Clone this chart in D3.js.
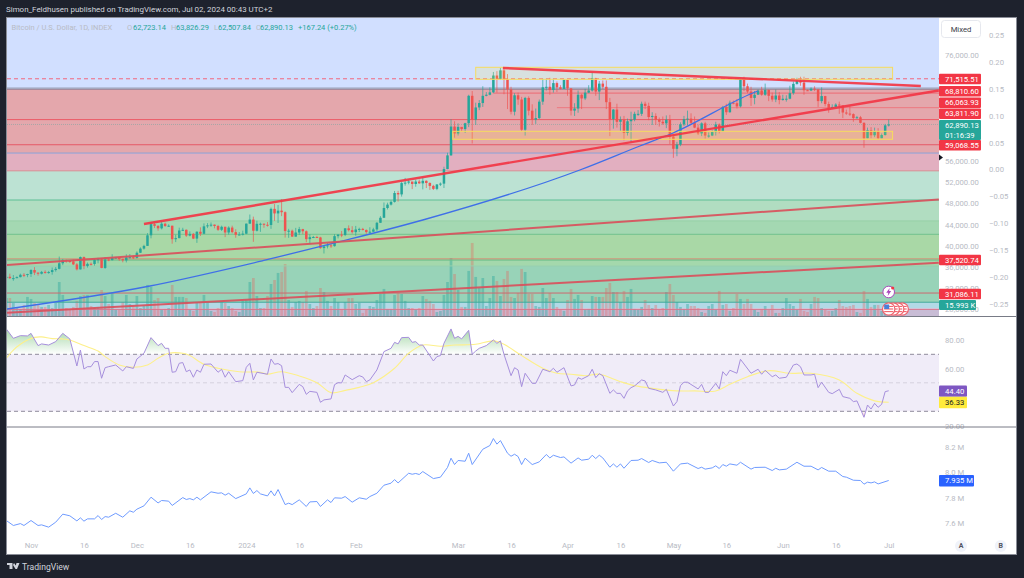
<!DOCTYPE html>
<html>
<head>
<meta charset="utf-8">
<script src="https://cdn.jsdelivr.net/npm/d3@7"></script>
<style>
  html, body { margin: 0; padding: 0; background: #1e222d; overflow: hidden; }
  svg { display: block; }
  text { font-family: Roboto, "Open Sans", sans-serif; }
  .tick line, .domain { display: none; }
</style>
</head>
<body>
<div id="root"></div>
<script>
// candle index 0 is Oct 25 2023, index 250 is Jul 1 2024
const opens = [
  33900,34150,33900,33900,34090,34530,34500,
  34670,35430,34940,34730,35080,35050,35050,35420,35650,36700,37300,37130,37060,36490,35550,37880,36170,36600,36570,37380,37470,35820,37420,37290,37720,37790,37480,37250,37820,37850,
  37720,38690,39470,39980,41980,44080,43770,43290,44170,43720,43790,41240,41450,42890,43020,41930,42240,41360,42650,42270,43670,43860,43990,43740,43020,43590,42510,43440,42580,42070,42140,
  42280,44180,44950,42840,44150,44160,43970,43930,46970,46110,46630,46340,42780,42850,41730,42510,43140,42740,41260,41620,41660,41580,39570,39890,40080,39930,41820,42120,42030,43300,42950,
  42580,43080,43190,42990,42580,42660,43090,44340,45290,47130,47770,48290,49960,49700,51830,51920,52130,51660,52120,51780,52260,51850,51300,50740,51570,51730,54480,57060,62500,
  61190,62440,62030,63130,68300,63800,66100,66940,68300,68500,68950,72130,71480,73100,71400,69500,65300,68400,67600,61900,67900,65500,63800,64100,67200,69900,70000,69400,70700,69900,69600,
  71300,69700,65500,65900,68500,67800,68900,69300,71600,69100,70600,70000,67100,63900,65700,63400,63800,61300,63500,63800,64900,64900,66800,66400,64300,64500,63800,63400,63100,63800,
  60600,58300,59100,62900,63900,64000,63200,62300,61200,63100,60800,60800,61450,62900,61600,66200,65200,67000,66900,66300,71400,70100,69100,67900,68500,69300,68500,69400,68300,67600,68350,
  67500,67750,67750,68800,70550,71100,70800,69350,69300,69650,69500,67300,68250,66750,66000,66200,66650,66500,65150,64950,64850,64100,64250,63200,60300,61800,60850,61650,60300,60900,
  62723.14];
const highs = [
  35150,34740,34480,34240,34740,34850,34720,
  35580,35980,34940,35260,35380,35260,35900,35990,37970,37520,37400,37230,37420,36750,37980,37980,36850,36850,37500,37730,37650,37870,37650,38400,37900,37830,37590,38400,38440,38150,
  38950,39700,40200,42400,44450,44300,43850,44700,44370,44050,43800,42100,43420,43400,43090,42720,42420,42750,43480,44230,44280,44400,44020,43950,43800,43600,43680,43800,43120,42600,42860,
  44200,45900,45500,44730,44370,44200,44480,47220,47880,47700,48800,46500,43200,43060,43380,43570,43200,42900,42150,41860,41870,41700,40100,40550,40330,42200,42180,42800,43300,43850,43700,
  43750,43420,43380,43100,43500,43400,44500,45600,48170,48130,48550,50350,50360,52030,52800,52580,52000,52500,52500,52960,52350,51980,51500,51650,51950,54920,57560,63900,63500,
  63100,62400,63200,68500,69200,67000,67500,70100,69000,69900,72800,72950,73600,73700,72400,70000,68800,68900,68100,68100,68200,66700,65900,67600,71500,71500,71700,71500,71000,70300,71350,
  71300,69700,66900,69300,68700,69600,70300,72800,71700,71100,71200,71200,67900,65800,66800,64400,64500,64000,65300,65300,65600,67200,67200,67000,65200,65000,64200,64400,64600,64700,
  60800,59600,63300,64500,65500,65000,64400,62900,63300,63400,61400,61800,63400,63100,66400,66800,67400,67400,67700,71500,71900,70600,70000,69200,69500,70000,70600,69500,68900,69500,69000,
  68500,68400,70200,71000,71700,71900,71900,69500,69900,70100,69600,69900,68300,67200,66700,66900,67200,65700,65700,66400,65000,64500,64500,63300,62300,62400,62300,62200,61200,63000,
  63826.29];
const lows = [
  33720,33730,33400,33860,34040,34100,34080,
  34120,34480,34360,34600,34740,34730,34550,35120,35560,36350,36800,36770,36360,35360,35520,35600,35880,36270,36250,36700,35770,35650,37100,37230,37610,37150,36880,36860,37620,37500,
  37600,38650,39280,39970,41410,43350,42850,43090,43600,43580,40400,40700,41420,42830,41670,41790,41270,40550,41850,42200,43340,43580,43300,42810,42800,41640,42110,42340,41520,41970,41950,
  42200,44150,40750,42700,42630,43400,43620,43200,44700,44300,45600,41550,41500,41700,41730,42050,42200,40680,40290,41450,41500,39450,38550,39500,39600,39850,41400,41630,41830,42700,42300,
  41900,42600,42890,42260,42260,42600,42800,44320,45250,46850,47600,48150,48350,49280,51350,51600,50700,51150,51700,50650,50900,50550,50530,50500,51280,50900,54450,57000,60400,
  60800,61600,61300,62400,59300,62800,65600,66200,68200,68400,68800,68900,71400,68600,65800,64800,64600,66600,61600,60800,64600,62800,63000,63900,66600,69300,68500,68900,69000,69500,69600,
  68300,64600,64500,65100,65800,67500,68800,69100,68300,67500,69600,65800,60700,62100,62300,61700,59900,60800,59600,63500,64500,64500,65800,63700,62800,62800,62500,62800,62200,59200,
  56600,56900,58800,62600,62700,62900,62200,60900,60700,60200,60400,60700,60800,61200,61600,64700,65100,66700,65900,66100,69200,68800,66400,66700,68700,68300,68300,67300,67200,67100,66700,
  67400,67200,67650,68500,70400,70200,68500,69200,69200,69200,66200,66900,66300,65100,65900,66000,64900,64100,64700,64500,63400,64000,63100,58500,60300,60300,60500,60000,60300,60800,
  62507.84];
const closes = [
  34150,33900,33900,34090,34530,34500,34670,
  35430,34940,34730,35080,35050,35050,35420,35650,36700,37300,37130,37060,36490,35550,37880,36170,36600,36570,37380,37470,35820,37420,37290,37720,37790,37480,37250,37820,37850,37720,
  38690,39470,39980,41980,44080,43770,43290,44170,43720,43790,41240,41450,42890,43020,41930,42240,41360,42650,42270,43670,43860,43990,43740,43020,43590,42510,43440,42580,42070,42140,42280,
  44180,44950,42840,44150,44160,43970,43930,46970,46110,46630,46340,42780,42850,41730,42510,43140,42740,41260,41620,41660,41580,39570,39890,40080,39930,41820,42120,42030,43300,42950,42580,
  43080,43190,42990,42580,42660,43090,44340,45290,47130,47770,48290,49960,49700,51830,51920,52130,51660,52120,51780,52260,51850,51300,50740,51570,51730,54480,57060,62500,61190,
  62440,62030,63130,68300,63800,66100,66940,68300,68500,68950,72130,71480,73100,71400,69500,65300,68400,67600,61900,67900,65500,63800,64100,67200,69900,70000,69400,70700,69900,69600,71300,
  69700,65500,65900,68500,67800,68900,69300,71600,69100,70600,70000,67100,63900,65700,63400,63800,61300,63500,63800,64900,64900,66800,66400,64300,64500,63800,63400,63100,63800,60600,
  58300,59100,62900,63900,64000,63200,62300,61200,63100,60800,60800,61450,62900,61600,66200,65200,67000,66900,66300,71400,70100,69100,67900,68500,69300,68500,69400,68300,67600,68350,67500,
  67750,67750,68800,70550,71100,70800,69350,69300,69650,69500,67300,68250,66750,66000,66200,66650,66500,65150,64950,64850,64100,64250,63200,60300,61800,60850,61650,60300,60900,62723,
  62890.13];
// volume in K
const volumes = [
  22.5,22.5,16.3,10,8.8,13.8,23.8,21.3,16.3,13.8,11.3,11.3,13.8,10,16.3,42.5,26.3,10,7.5,11.3,18.8,25,26.3,26.3,12.5,
  10,11.3,32.5,25,15,28.8,7.5,7.5,17.5,26.3,15,12.5,25,10,12.5,38.8,36.3,20,22.5,7.5,8.8,10,38.8,23.8,23.8,
  23.8,22.5,7.5,6.3,17.5,16.3,26.3,17.5,6.3,5,10,17.5,16.3,12.5,10,6.3,5,18.8,20,42.5,47.5,25,10,10,25,
  40,45,53.8,55,65,20,11.3,17.5,18.8,17.5,31.3,15,10,12.5,35,30,18.8,12.5,22.5,17.5,8.8,17.5,22.5,22.5,15,
  16.3,3.8,7.5,12.5,11.3,20,27.5,33.8,8.8,8.8,26.3,28.8,27.5,18.8,10,10,7.5,10,25,21.3,18.8,15,5,6.3,26.3,
  42.5,72.5,52.5,32.5,11.3,11.3,56.3,91.3,48.8,35,47.5,12.5,22.5,50,43.8,25,46.3,56.3,23.8,22.5,28.8,58.8,55,27.5,27.5,
  12.5,11.3,35,22.5,28.8,22.5,11.3,7.5,6.3,20,33.8,21.3,26.3,20,7.5,8.8,25,23.8,23.8,23.8,35,41.3,30,30,17.5,
  31.3,23.8,33.8,8.8,7.5,11.3,20,13.8,10,13.8,8.8,10,30,40,26.3,17.5,11.3,8.8,15,12.5,12.5,10,5,3.8,12.5,
  15,7.5,31.3,13.8,15,6.3,10,27.5,21.3,15,21.3,15,7.5,5,8.8,12.5,7.5,13.8,3.8,3.8,10,22.5,15,12.5,7.5,
  21.3,6.3,5,15,23.8,22.5,10,7.5,6.3,6.3,10,20,12.5,11.3,12.5,13.8,5,3.8,31.3,21.3,11.3,13.8,13.8,6.3,3.8,
  15.993];

const rsiDays = [0,2,4,6,7,9,10,12,14,16,18,20,21,22,23,24,25,26,27,28,29,31,33,34,36,37,39,41,43,44,45,46,47,48,49,50,51,52,53,54,55,56,58,60,61,62,63,65,67,68,69,70,71,74,75,76,77,78,79,80,81,83,84,85,86,88,89,90,92,93,94,95,96,98,100,101,102,103,105,107,109,110,111,112,114,115,116,117,118,121,122,123,124,126,127,128,129,131,132,133,134,136,138,139,140,141,143,144,145,146,147,149,150,152,154,155,156,158,160,161,162,163,165,166,167,168,169,171,172,173,174,175,176,177,178,180,181,182,184,186,187,189,190,191,192,193,196,197,198,199,201,202,203,204,205,207,208,211,213,214,215,217,218,219,221,223,224,225,226,228,229,230,231,233,234,236,237,239,240,241,243,244,245,246,247,248,249,250];
const rsiValues = [87.8,81.2,83.1,82.9,84.7,76.1,77.3,76.5,78.9,84.7,80.8,61.8,73,59.7,61.3,61.3,64.9,64.9,53.2,60.6,61.3,62.5,58.3,61.3,60.1,66.7,70.7,81.7,76.1,77.7,74.2,74.2,57.4,57.8,63.7,64.2,57.8,59,53.9,59,57.4,63,63.2,57.4,59.5,53.9,57.8,50.8,51.5,60.9,63.7,52,57.4,56,66.7,63,63.5,62,46.8,46.8,43.1,48.9,47.3,41.9,44,43.3,36.3,38,38.7,48.7,50.1,49.9,55.5,52.2,55,54.1,50.8,52,59,71.9,74.2,78.4,77.3,81.7,81.9,78.4,78.9,76.5,76.5,65.3,68.4,69.1,77.7,87.8,81.2,82.6,80.8,86.8,70,72.3,74.2,76.1,80.1,77.7,79.4,70,55,60.6,59,47.3,56.7,49.6,49.6,59.5,57.8,60.2,57.4,60.6,47.8,48.5,53.6,52.5,55,59.5,53.6,56.4,55,42.6,45,42.6,42.6,39.1,44.3,46.6,47.8,52,51.3,46.1,45,43.3,45.4,33.7,36.8,48,50.4,50.4,45.7,48.9,43.3,43.3,49.6,45.7,57.8,55,58.8,56.7,66.5,56.7,59.5,56,58.8,54.3,55.5,53.2,53.9,62.5,63.2,61.3,55.5,55.5,56,46.6,50.4,43.3,42.4,45.4,40.3,39.1,36.8,37.3,25.8,34.4,31.6,35.6,32.8,34.9,43.8,44.4];
const rsiMaDays = [0,2,4,6,8,10,13,16,18,22,26,28,32,36,40,43,46,50,52,56,60,66,72,74,78,83,88,92,96,100,104,110,114,118,123,127,133,138,141,146,152,156,160,164,168,174,178,183,190,195,201,205,210,216,222,228,236,241,246,250];
const rsiMaValues = [67.2,73,77,80,81.9,82.2,81,80.8,80,76.1,72.3,68.4,62.5,60.9,62.5,67.2,70.7,70.7,69.1,63,60.2,57.8,57.4,56,57.8,54.8,50.1,43.1,44.7,46.8,50.1,60.2,70.7,76.5,75.6,76.5,77,79.4,77,69.1,60.2,56.7,56,55,56,50.8,48,46.1,44.3,44.3,44.3,48.9,54.3,58.5,56.7,56.7,52,42.6,37.3,36.33];

const lineDays = [0,2,4,5,7,9,10,12,14,16,18,20,21,22,23,25,26,27,28,29,31,33,35,36,37,39,41,43,44,46,47,50,51,52,53,54,55,58,60,61,62,63,65,68,69,70,71,72,74,75,76,77,79,80,81,83,85,86,88,89,91,92,93,95,96,98,100,102,103,105,107,109,110,111,114,115,116,117,118,121,123,125,126,127,128,130,131,132,135,137,138,139,140,142,143,144,145,146,147,149,151,153,154,155,157,158,160,162,163,165,166,167,168,169,171,172,173,174,175,177,179,180,182,183,185,187,189,191,193,196,197,198,200,201,202,203,204,205,207,208,211,212,215,217,218,219,221,224,226,228,230,231,233,235,237,238,240,242,243,244,245,246,247,250];
const lineValues = [7.621,7.582,7.597,7.582,7.621,7.582,7.587,7.569,7.608,7.671,7.658,7.618,7.642,7.616,7.634,7.634,7.66,7.629,7.652,7.647,7.678,7.647,7.697,7.686,7.71,7.736,7.804,7.759,7.778,7.773,7.739,7.801,7.786,7.793,7.783,7.804,7.783,7.846,7.835,7.838,7.82,7.835,7.793,7.83,7.877,7.833,7.856,7.83,7.814,7.854,7.814,7.864,7.746,7.757,7.746,7.783,7.731,7.767,7.77,7.731,7.783,7.762,7.799,7.796,7.809,7.765,7.799,7.788,7.809,7.835,7.898,7.914,7.942,7.916,7.992,7.984,7.99,7.982,8.005,7.95,7.961,8.037,8.11,8.06,8.092,8.086,8.149,8.06,8.18,8.209,8.264,8.22,8.248,8.149,8.125,8.141,8.123,8.06,8.11,8.06,8.081,8.139,8.112,8.133,8.115,8.12,8.071,8.112,8.094,8.102,8.133,8.107,8.133,8.112,8.039,8.065,8.039,8.065,8.031,8.092,8.094,8.107,8.076,8.092,8.073,8.078,8.008,8.065,8.071,8.029,8.039,8.024,8.034,8.05,8.029,8.06,8.047,8.065,8.055,8.078,8.024,8.037,8.039,8.013,8.031,8.018,8.024,8.078,8.047,8.047,8.018,8.037,8.008,8.008,7.966,7.961,7.937,7.935,7.906,7.922,7.916,7.924,7.908,7.935];

// background zones of the price pane, top and bottom price
const zoneTops = [90000,69600,57500,54150,48640,44700,42170,37520,36200,29350,28200];
const zoneBottoms = [69600,57500,54150,48640,44700,42170,37520,36200,29350,28200,26000];
const zoneColors = ["#d1dfff","#e4a7ac","#e2afc0","#bce2d3","#b1ddc1","#a4d8b2","#a9d8a6","#a4d8ac","#98d3b8","#b2d9e6","#c8bcd5"];

// horizontal levels: price, colour, first candle
const levelPrices = [71515.51,69750,69500,68810.6,66063.93,63811.9,62890.13,59068.55,57500,54150,48640,44700,42170,37520.74,37300,36200,31086.11,29350,28000];
const levelColors = ["#f2677c","#8a8ca0","#a38a9c","#ec6a75","#ec7a80","#ec5a66","#a7a6a6","#e55a68","#8ba3d8","#d98a92","#5fbf95","#96cfa6","#6dc08a","#d8806a","#6cc08a","#96cfae","#cc6a70","#3fa89a","#d8758c"];
const levelStart = [0,0,0,138,156,0,0,0,0,0,0,0,0,0,0,0,0,0,0];

const priceTicks = [76000,72000,56000,52000,48000,44000,40000,36000,32000,28000];
const pctTicks = [0.25,0.2,0.15,0.1,0.05,0,-0.05,-0.1,-0.15,-0.2,-0.25];
const rsiTicks = [80,60,20];
const lineTicks = [8.2,8,7.8,7.6];
const dayTicks = [7,22,37,52,68,83,99,128,143,159,174,189,204,220,235,250];
const dayLabels = ["Nov","16","Dec","16","2024","16","Feb","Mar","16","Apr","16","May","16","Jun","16","Jul"];

// trend lines as [candle, price]
const upperTrend = [[39,44113],[264.2,69302]];
const topTrend = [[140.7,73547],[259.1,70150]];
const middleTrend = [[0.2,36377],[264.2,48736]];
const lowerTrend = [[0.2,27378],[264.2,36810]];
const blueCurve = [[0.2,28076],[40.7,32415],[72.7,37189],[94.5,40773],[118,44868],[162.5,54302],[179.5,58830],[188.9,61283],[211.5,68830],[212.9,69208]];

// price boxes: first candle, last candle, top, bottom
const boxes = [[133,251.1,73680,71415],[126.5,251.1,61604,60094]];

const priceTags = [
  ["71,515.51",71515.51,79],["68,810.60",68810.6,91.3],["66,063.93",66063.93,102.7],["63,811.90",63811.9,113.8],
  ["59,068.55",59068.55,145.2],["37,520.74",37520.74,260],["31,086.11",31086.11,294]];

// layout
const W = 1024, H = 578;
const chartL = 7, chartR = 939, panelR = 1016, chartT = 18, priceB = 316.5, rsiB = 427, panelB = 554;
const teal = "#26a69a", red = "#ef5350", tagRed = "#f23645";
const axisColor = "#b8bbc4";
const smallFont = 7.7;

const svg = d3.select("#root").append("svg").attr("width", W).attr("height", H)
  .style("background", "#1e222d");

const x = d3.scaleLinear().domain([7, 250]).range([31, 888.7]);
const yPrice = d3.scaleLinear().domain([76000, 28000]).range([55, 309.4]);
const yPct = d3.scaleLinear().domain([0.25, -0.25]).range([35, 304]);
const yVol = d3.scaleLinear().domain([0, 16]).range([316, 303.2]);
const yRsi = d3.scaleLinear().domain([70, 30]).range([354.3, 411.3]);
const yLine = d3.scaleLinear().domain([8.2, 7.6]).range([446.7, 523.2]);

svg.append("rect").attr("x", chartL).attr("y", chartT).attr("width", panelR - chartL).attr("height", panelB - chartT)
  .attr("fill", "#fff");

const defs = svg.append("defs");
defs.append("clipPath").attr("id", "priceClip").append("rect")
  .attr("x", chartL).attr("y", chartT).attr("width", chartR - chartL).attr("height", priceB - chartT);
defs.append("clipPath").attr("id", "aboveClip").append("rect")
  .attr("x", chartL).attr("y", chartT).attr("width", chartR - chartL).attr("height", yRsi(70) - chartT);
defs.append("clipPath").attr("id", "belowClip").append("rect")
  .attr("x", chartL).attr("y", yRsi(30)).attr("width", chartR - chartL).attr("height", rsiB - yRsi(30));
defs.append("clipPath").attr("id", "paneClip").append("rect")
  .attr("x", chartL).attr("y", priceB).attr("width", chartR - chartL).attr("height", panelB - priceB);
const gradUp = defs.append("linearGradient").attr("id", "rsiUp").attr("gradientUnits", "userSpaceOnUse")
  .attr("x1", 0).attr("x2", 0).attr("y1", yRsi(88)).attr("y2", yRsi(70));
gradUp.append("stop").attr("offset", 0).attr("stop-color", "#4caf50").attr("stop-opacity", 0.5);
gradUp.append("stop").attr("offset", 1).attr("stop-color", "#4caf50").attr("stop-opacity", 0);
const gradDown = defs.append("linearGradient").attr("id", "rsiDown").attr("gradientUnits", "userSpaceOnUse")
  .attr("x1", 0).attr("x2", 0).attr("y1", yRsi(30)).attr("y2", yRsi(25));
gradDown.append("stop").attr("offset", 0).attr("stop-color", "#ef5350").attr("stop-opacity", 0);
gradDown.append("stop").attr("offset", 1).attr("stop-color", "#ef5350").attr("stop-opacity", 0.5);

// Price pane
const price = svg.append("g").attr("clip-path", "url(#priceClip)");
price.selectAll("rect.zone").data(zoneTops).enter().append("rect")
  .attr("class", "zone")
  .attr("x", chartL).attr("width", chartR - chartL)
  .attr("y", (d) => yPrice(d))
  .attr("height", (d, i) => yPrice(zoneBottoms[i]) - yPrice(d))
  .attr("fill", (d, i) => zoneColors[i]);

price.selectAll("rect.vol").data(volumes).enter().append("rect")
  .attr("class", "vol")
  .attr("x", (d, i) => x(i) - 1.35).attr("width", 2.7)
  .attr("y", (d) => yVol(d))
  .attr("height", (d) => yVol(0) - yVol(d))
  .attr("fill", (d, i) => closes[i] >= opens[i] ? teal : red)
  .attr("opacity", (d, i) => closes[i] >= opens[i] ? 0.4 : 0.3);

price.selectAll("line.level").data(levelPrices).enter().append("line")
  .attr("class", "level")
  .attr("x1", (d, i) => levelStart[i] ? x(levelStart[i]) : chartL).attr("x2", chartR)
  .attr("y1", (d) => yPrice(d)).attr("y2", (d) => yPrice(d))
  .attr("stroke", (d, i) => levelColors[i])
  .attr("stroke-width", 1)
  .attr("stroke-dasharray", (d, i) => i === 0 ? "4 3" : i === 6 ? "1 1" : null);

// Candles
const candles = price.selectAll("g.candle").data(closes).enter().append("g").attr("class", "candle");
candles.append("line")
  .attr("x1", (d, i) => x(i)).attr("x2", (d, i) => x(i))
  .attr("y1", (d, i) => yPrice(highs[i])).attr("y2", (d, i) => yPrice(lows[i]))
  .attr("stroke", (d, i) => d >= opens[i] ? teal : red).attr("stroke-width", 0.9).attr("opacity", 0.75);
candles.append("rect")
  .attr("x", (d, i) => x(i) - 1.25).attr("width", 2.5)
  .attr("y", (d, i) => yPrice(Math.max(d, opens[i])))
  .attr("height", (d, i) => Math.max(1, Math.abs(yPrice(d) - yPrice(opens[i]))))
  .attr("fill", (d, i) => d >= opens[i] ? teal : red);

// Boxes
price.selectAll("rect.box").data(boxes).enter().append("rect")
  .attr("class", "box")
  .attr("x", (d) => x(d[0])).attr("width", (d) => x(d[1]) - x(d[0]))
  .attr("y", (d) => yPrice(d[2])).attr("height", (d) => yPrice(d[3]) - yPrice(d[2]))
  .attr("fill", "#ffeb3b").attr("fill-opacity", 0.16)
  .attr("stroke", "#f7dc5e").attr("stroke-width", 1);

// Trend lines
const trend = d3.line().x((d) => x(d[0])).y((d) => yPrice(d[1]));
price.append("path").datum(blueCurve).attr("d", trend.curve(d3.curveMonotoneX))
  .attr("fill", "none").attr("stroke", "#3f6fe8").attr("stroke-width", 1.3);
trend.curve(d3.curveLinear);
[[lowerTrend, "#d9505c", 2], [middleTrend, "#d9505c", 2], [upperTrend, "#f23645", 2.4], [topTrend, "#f23645", 2.4]].forEach((t) => {
  price.append("path").datum(t[0]).attr("d", trend)
    .attr("fill", "none").attr("stroke", t[1]).attr("stroke-width", t[2]).attr("stroke-opacity", 0.92);
});

// Event icons on the last candle
const icons = svg.append("g");
icons.append("circle").attr("cx", x(250)).attr("cy", 292).attr("r", 5.8)
  .attr("fill", "#fff").attr("stroke", "#ab47bc").attr("stroke-width", 1);
icons.append("path").attr("transform", `translate(${x(250)},292)`)
  .attr("d", "M1-4-2.5 .8H-.4L-1 4 2.5-1H.4Z").attr("fill", "#ab47bc");
icons.append("circle").attr("cx", x(250) + 4).attr("cy", 288).attr("r", 1.6).attr("fill", "#f23645");
[3, 2, 1, 0].forEach((k) => {
  const cx = x(250) + k * 4.5;
  icons.append("circle").attr("cx", cx).attr("cy", 309).attr("r", 6.2)
    .attr("fill", "#fff").attr("stroke", "#f0606a").attr("stroke-width", 1.2);
  [-2.6, 0, 2.6].forEach((dy) => {
    icons.append("line").attr("x1", cx - 4.5).attr("x2", cx + 4.5).attr("y1", 309 + dy).attr("y2", 309 + dy)
      .attr("stroke", "#f0606a").attr("stroke-width", 1.1);
  });
});
icons.append("rect").attr("x", x(250) - 4.5).attr("y", 304.5).attr("width", 5).attr("height", 4.5).attr("fill", "#4a7fd8");

// RSI pane
svg.append("rect").attr("x", chartL).attr("width", chartR - chartL)
  .attr("y", yRsi(70)).attr("height", yRsi(30) - yRsi(70)).attr("fill", "#f0ecf8");
const rsiPoints = rsiDays.map((d, i) => [d, rsiValues[i]]);
const rsiArea = d3.area().x((d) => x(d[0])).y1((d) => yRsi(d[1]));
svg.append("path").datum(rsiPoints).attr("clip-path", "url(#aboveClip)")
  .attr("d", rsiArea.y0(yRsi(70))).attr("fill", "url(#rsiUp)");
svg.append("path").datum(rsiPoints).attr("clip-path", "url(#belowClip)")
  .attr("d", rsiArea.y0(yRsi(30))).attr("fill", "url(#rsiDown)");
[[70, "#8f8b9c"], [50, "#d5d2de"], [30, "#8f8b9c"]].forEach((l) => {
  svg.append("line").attr("x1", chartL).attr("x2", chartR)
    .attr("y1", yRsi(l[0])).attr("y2", yRsi(l[0]))
    .attr("stroke", l[1]).attr("stroke-dasharray", "4 3");
});
svg.append("path").datum(rsiMaDays.map((d, i) => [d, rsiMaValues[i]]))
  .attr("clip-path", "url(#paneClip)")
  .attr("d", d3.line().x((d) => x(d[0])).y((d) => yRsi(d[1])).curve(d3.curveCatmullRom))
  .attr("fill", "none").attr("stroke", "#fdf08a").attr("stroke-width", 1.1);
svg.append("path").datum(rsiPoints)
  .attr("clip-path", "url(#paneClip)")
  .attr("d", d3.line().x((d) => x(d[0])).y((d) => yRsi(d[1])))
  .attr("fill", "none").attr("stroke", "#a68fdc").attr("stroke-width", 1);

// Bottom pane
svg.append("path").datum(lineDays.map((d, i) => [d, lineValues[i]]))
  .attr("clip-path", "url(#paneClip)")
  .attr("d", d3.line().x((d) => x(d[0])).y((d) => yLine(d[1])))
  .attr("fill", "none").attr("stroke", "#6f9bff").attr("stroke-width", 1);

// Axes
function styleAxis(g, color) {
  g.selectAll("text").attr("fill", color || axisColor).attr("font-size", smallFont);
}
svg.append("g").attr("transform", "translate(942,0)")
  .call(d3.axisRight(yPrice).tickValues(priceTicks).tickSize(0).tickPadding(3)
    .tickFormat((d) => d3.format(",.2f")(d))).call(styleAxis);
svg.append("g").attr("transform", "translate(986,0)")
  .call(d3.axisRight(yPct).tickValues(pctTicks).tickSize(0).tickPadding(3)
    .tickFormat((d) => d3.format(".2f")(d).replace("-", "\u2212"))).call(styleAxis);
svg.append("g").attr("transform", "translate(942,0)")
  .call(d3.axisRight(yRsi).tickValues(rsiTicks).tickSize(0).tickPadding(3)
    .tickFormat((d) => d3.format(".2f")(d))).call(styleAxis);
svg.append("g").attr("transform", "translate(942,0)")
  .call(d3.axisRight(yLine).tickValues(lineTicks).tickSize(0).tickPadding(3)
    .tickFormat((d) => d3.format(".1f")(d) + " M")).call(styleAxis);
svg.append("g").attr("transform", "translate(0,543)")
  .call(d3.axisBottom(x).tickValues(dayTicks).tickSize(0).tickPadding(0)
    .tickFormat((d, i) => dayLabels[i])).call(styleAxis);

// Pane borders
[priceB, rsiB].forEach((y) => {
  svg.append("line").attr("x1", chartL).attr("x2", panelR).attr("y1", y).attr("y2", y)
    .attr("stroke", "#787b86").attr("stroke-width", 1);
});
svg.append("rect").attr("x", chartL - 0.5).attr("y", chartT - 0.5)
  .attr("width", panelR - chartL + 1).attr("height", panelB - chartT + 1)
  .attr("fill", "none").attr("stroke", "#8a8d97");

// Value tags on the right
function tag(y0, y1, x1, fill) {
  svg.append("rect").attr("x", chartR).attr("y", y0).attr("width", x1 - chartR).attr("height", y1 - y0)
    .attr("rx", 1).attr("fill", fill);
}
function tagText(txt, y, color, xPos) {
  svg.append("text").attr("x", xPos || 945).attr("y", y).attr("dy", "0.34em")
    .attr("fill", color || "#fff").attr("font-size", smallFont).text(txt);
}
priceTags.forEach((t) => {
  tag(t[2] - 5.2, t[2] + 5.2, 981, tagRed);
  tagText(t[0], t[2]);
});
tag(120, 140, 981, teal);
tagText("62,890.13", 125);
tagText("01:16:39", 135);
tag(300, 310, 976, teal);
tagText("15.993 K", 305);
tag(385.5, 396.8, 967, "#7e57c2");
tagText("44.40", 391);
tag(396.8, 408.3, 967, "#ffeb3b");
tagText("36.33", 402.6, "#131722");
tag(475, 486.6, 974, "#2962ff");
tagText("7.935 M", 480.8);

// Mixed button
svg.append("rect").attr("x", 941.5).attr("y", 20.5).attr("width", 39).attr("height", 17)
  .attr("rx", 3).attr("fill", "#fff").attr("stroke", "#e6e8ee");
svg.append("text").attr("x", 961).attr("y", 29).attr("dy", "0.35em").attr("text-anchor", "middle")
  .attr("fill", "#3a3d46").attr("font-size", smallFont).text("Mixed");
svg.append("path").attr("d", "M939 154.5 L943 157.5 L939 160.5Z").attr("fill", "#131722");

// A and B buttons
[["A", 961], ["B", 1000.7]].forEach((b) => {
  svg.append("circle").attr("cx", b[1]).attr("cy", 546).attr("r", 6).attr("fill", "#f0f3fa");
  svg.append("text").attr("x", b[1]).attr("y", 546).attr("dy", "0.35em").attr("text-anchor", "middle")
    .attr("fill", "#50535e").attr("font-size", 7).attr("font-weight", 700).text(b[0]);
});

// Legend row in the chart
[
  ["Bitcoin / U.S. Dollar, 1D, INDEX", 11.5, "#b8bbc4"],
  ["O", 127, "#b8bbc4"], ["62,723.14", 133, teal],
  ["H", 171, "#b8bbc4"], ["63,826.29", 176, teal],
  ["L", 214, "#b8bbc4"], ["62,507.84", 218, teal],
  ["C", 256, "#b8bbc4"], ["62,890.13", 260, teal],
  ["+167.24 (+0.27%)", 298, teal]
].forEach((t) => {
  svg.append("text").attr("x", t[1]).attr("y", 27).attr("dy", "0.35em")
    .attr("fill", t[2]).attr("font-size", 7.5).text(t[0]);
});

// Header and footer
svg.append("text").attr("x", 6).attr("y", 9.5).attr("dy", "0.35em")
  .attr("fill", "#d1d4dc").attr("font-size", 7.95)
  .text("Simon_Feldhusen published on TradingView.com, Jul 02, 2024 00:43 UTC+2");
svg.append("path").attr("d", "M7 563H12.5V569H9.5V565H7ZM14 563 13 565 15.5 569H17L19.5 563H16.5L15.8 565.5Z").attr("fill", "#d1d4dc");
svg.append("text").attr("x", 22).attr("y", 566.5).attr("dy", "0.35em")
  .attr("fill", "#d1d4dc").attr("font-size", 8.6).text("TradingView");
</script>
</body>
</html>
